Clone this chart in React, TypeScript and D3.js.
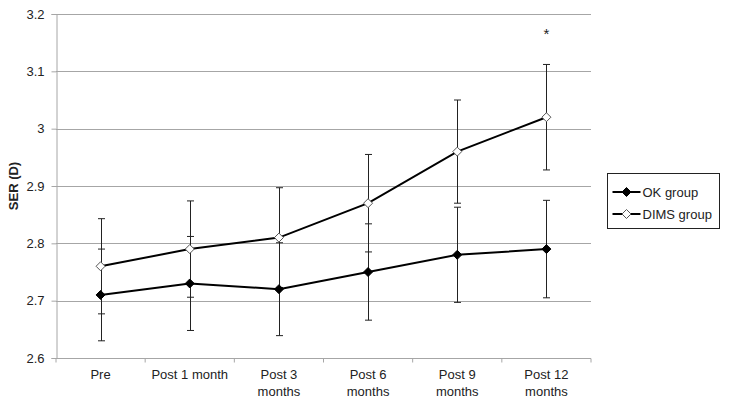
import { useEffect, useRef } from "react";
import * as d3 from "d3";

const categories = ["Pre", "Post 1 month", "Post 3 months", "Post 6 months", "Post 9 months", "Post 12 months"];
const categoryLines = [["Pre"], ["Post 1 month"], ["Post 3", "months"], ["Post 6", "months"], ["Post 9", "months"], ["Post 12", "months"]];
const okValues = [2.71, 2.73, 2.72, 2.75, 2.78, 2.79];
const okErrors = [0.08, 0.082, 0.081, 0.084, 0.083, 0.085];
const dimsValues = [2.76, 2.79, 2.81, 2.87, 2.96, 3.02];
const dimsErrors = [0.083, 0.084, 0.087, 0.085, 0.09, 0.092];
const yTicks = [2.6, 2.7, 2.8, 2.9, 3, 3.1, 3.2];
const seriesNames = ["OK group", "DIMS group"];

const App = () => {
  const svgRef = useRef<SVGSVGElement>(null);

  useEffect(() => {
    document.body.style.margin = "0";
    const width = 729;
    const height = 404;
    const svg = d3.select(svgRef.current).attr("width", width).attr("height", height);
    svg.selectAll("*").remove();

    const font = "'Liberation Sans', Arial, sans-serif";
    const left = 56, right = 591, top = 14, bottom = 358;

    const x = d3.scaleBand().domain(categories).range([left, right]);
    const y = d3.scaleLinear().domain([2.6, 3.2]).range([bottom, top]);
    const cx = (c: string) => (x(c) as number) + x.bandwidth() / 2;

    // gridlines
    svg
      .append("g")
      .selectAll("line")
      .data(yTicks.slice(1))
      .enter()
      .append("line")
      .attr("x1", left)
      .attr("x2", right)
      .attr("y1", (d) => Math.round(y(d)) + 0.5)
      .attr("y2", (d) => Math.round(y(d)) + 0.5)
      .attr("stroke", "#a6a6a6")
      .attr("stroke-width", 1);

    // y axis
    const yAxis = svg
      .append("g")
      .attr("transform", `translate(${left + 0.5},0)`)
      .call(d3.axisLeft(y).tickValues(yTicks).tickSize(5).tickPadding(7).tickFormat(d3.format("")));
    yAxis.select(".domain").attr("stroke", "#a6a6a6");
    yAxis.selectAll(".tick line").attr("stroke", "#a6a6a6");
    yAxis.selectAll(".tick text").attr("font-family", font).attr("font-size", 13).attr("fill", "#222");

    // x axis
    const xAxisG = svg.append("g").attr("transform", `translate(0,${bottom + 0.5})`);
    xAxisG
      .append("line")
      .attr("x1", left)
      .attr("x2", right)
      .attr("stroke", "#a6a6a6");
    xAxisG
      .selectAll(".xt")
      .data(d3.range(categories.length + 1))
      .enter()
      .append("line")
      .attr("x1", (i) => left + i * x.step())
      .attr("x2", (i) => left + i * x.step())
      .attr("y1", 0)
      .attr("y2", 4)
      .attr("stroke", "#a6a6a6");
    categories.forEach((c, i) => {
      const t = xAxisG
        .append("text")
        .attr("x", cx(c))
        .attr("y", 20)
        .attr("text-anchor", "middle")
        .attr("font-family", font)
        .attr("font-size", 13)
        .attr("fill", "#222");
      categoryLines[i].forEach((line, j) => {
        t.append("tspan").attr("x", cx(c)).attr("dy", j === 0 ? 0 : 17).text(line);
      });
    });

    // y label
    svg
      .append("text")
      .attr("transform", `translate(18,186) rotate(-90)`)
      .attr("text-anchor", "middle")
      .attr("font-family", font)
      .attr("font-size", 13)
      .attr("font-weight", "bold")
      .attr("fill", "#222")
      .text("SER (D)");

    const drawErrors = (vals: number[], errs: number[]) => {
      const g = svg.append("g").attr("stroke", "#222").attr("stroke-width", 1);
      categories.forEach((c, i) => {
        const px = Math.round(cx(c)) + 0.5;
        const y1 = y(vals[i] + errs[i]);
        const y2 = y(vals[i] - errs[i]);
        g.append("line").attr("x1", px).attr("x2", px).attr("y1", y1).attr("y2", y2);
        [y1, y2].forEach((yy) =>
          g.append("line").attr("x1", px - 3.5).attr("x2", px + 3.5).attr("y1", yy).attr("y2", yy)
        );
      });
    };
    drawErrors(okValues, okErrors);
    drawErrors(dimsValues, dimsErrors);

    const line = d3
      .line<number>()
      .x((_, i) => cx(categories[i]))
      .y((d) => y(d));

    const diamond = (g: any, px: number, py: number, filled: boolean) => {
      const r = 4.5;
      g.append("path")
        .attr("d", `M${px},${py - r}L${px + r},${py}L${px},${py + r}L${px - r},${py}Z`)
        .attr("fill", filled ? "#000" : "#fff")
        .attr("stroke", filled ? "#000" : "#555")
        .attr("stroke-width", 1);
    };

    const series = [
      { vals: okValues, filled: true },
      { vals: dimsValues, filled: false },
    ];
    series.forEach((s) => {
      svg
        .append("path")
        .datum(s.vals)
        .attr("d", line)
        .attr("fill", "none")
        .attr("stroke", "#000")
        .attr("stroke-width", 2);
      const g = svg.append("g");
      s.vals.forEach((v, i) => diamond(g, cx(categories[i]), y(v), s.filled));
    });

    // significance marker
    svg
      .append("text")
      .attr("x", cx(categories[5]))
      .attr("y", y(3.157))
      .attr("text-anchor", "middle")
      .attr("font-family", font)
      .attr("font-size", 15)
      .attr("fill", "#222")
      .text("*");

    // legend
    const lg = svg.append("g").attr("transform", "translate(607.5,173.5)");
    lg.append("rect").attr("width", 112).attr("height", 55).attr("fill", "#fff").attr("stroke", "#222");
    seriesNames.forEach((name, i) => {
      const ly = 18.5 + i * 22;
      lg.append("line").attr("x1", 5).attr("x2", 33).attr("y1", ly).attr("y2", ly).attr("stroke", "#000").attr("stroke-width", 2);
      diamond(lg, 19, ly, i === 0);
      lg.append("text")
        .attr("x", 35)
        .attr("y", ly + 4.5)
        .attr("font-family", font)
        .attr("font-size", 13)
        .attr("fill", "#222")
        .text(name);
    });
  }, []);

  return <svg ref={svgRef}></svg>;
};

export default App;
